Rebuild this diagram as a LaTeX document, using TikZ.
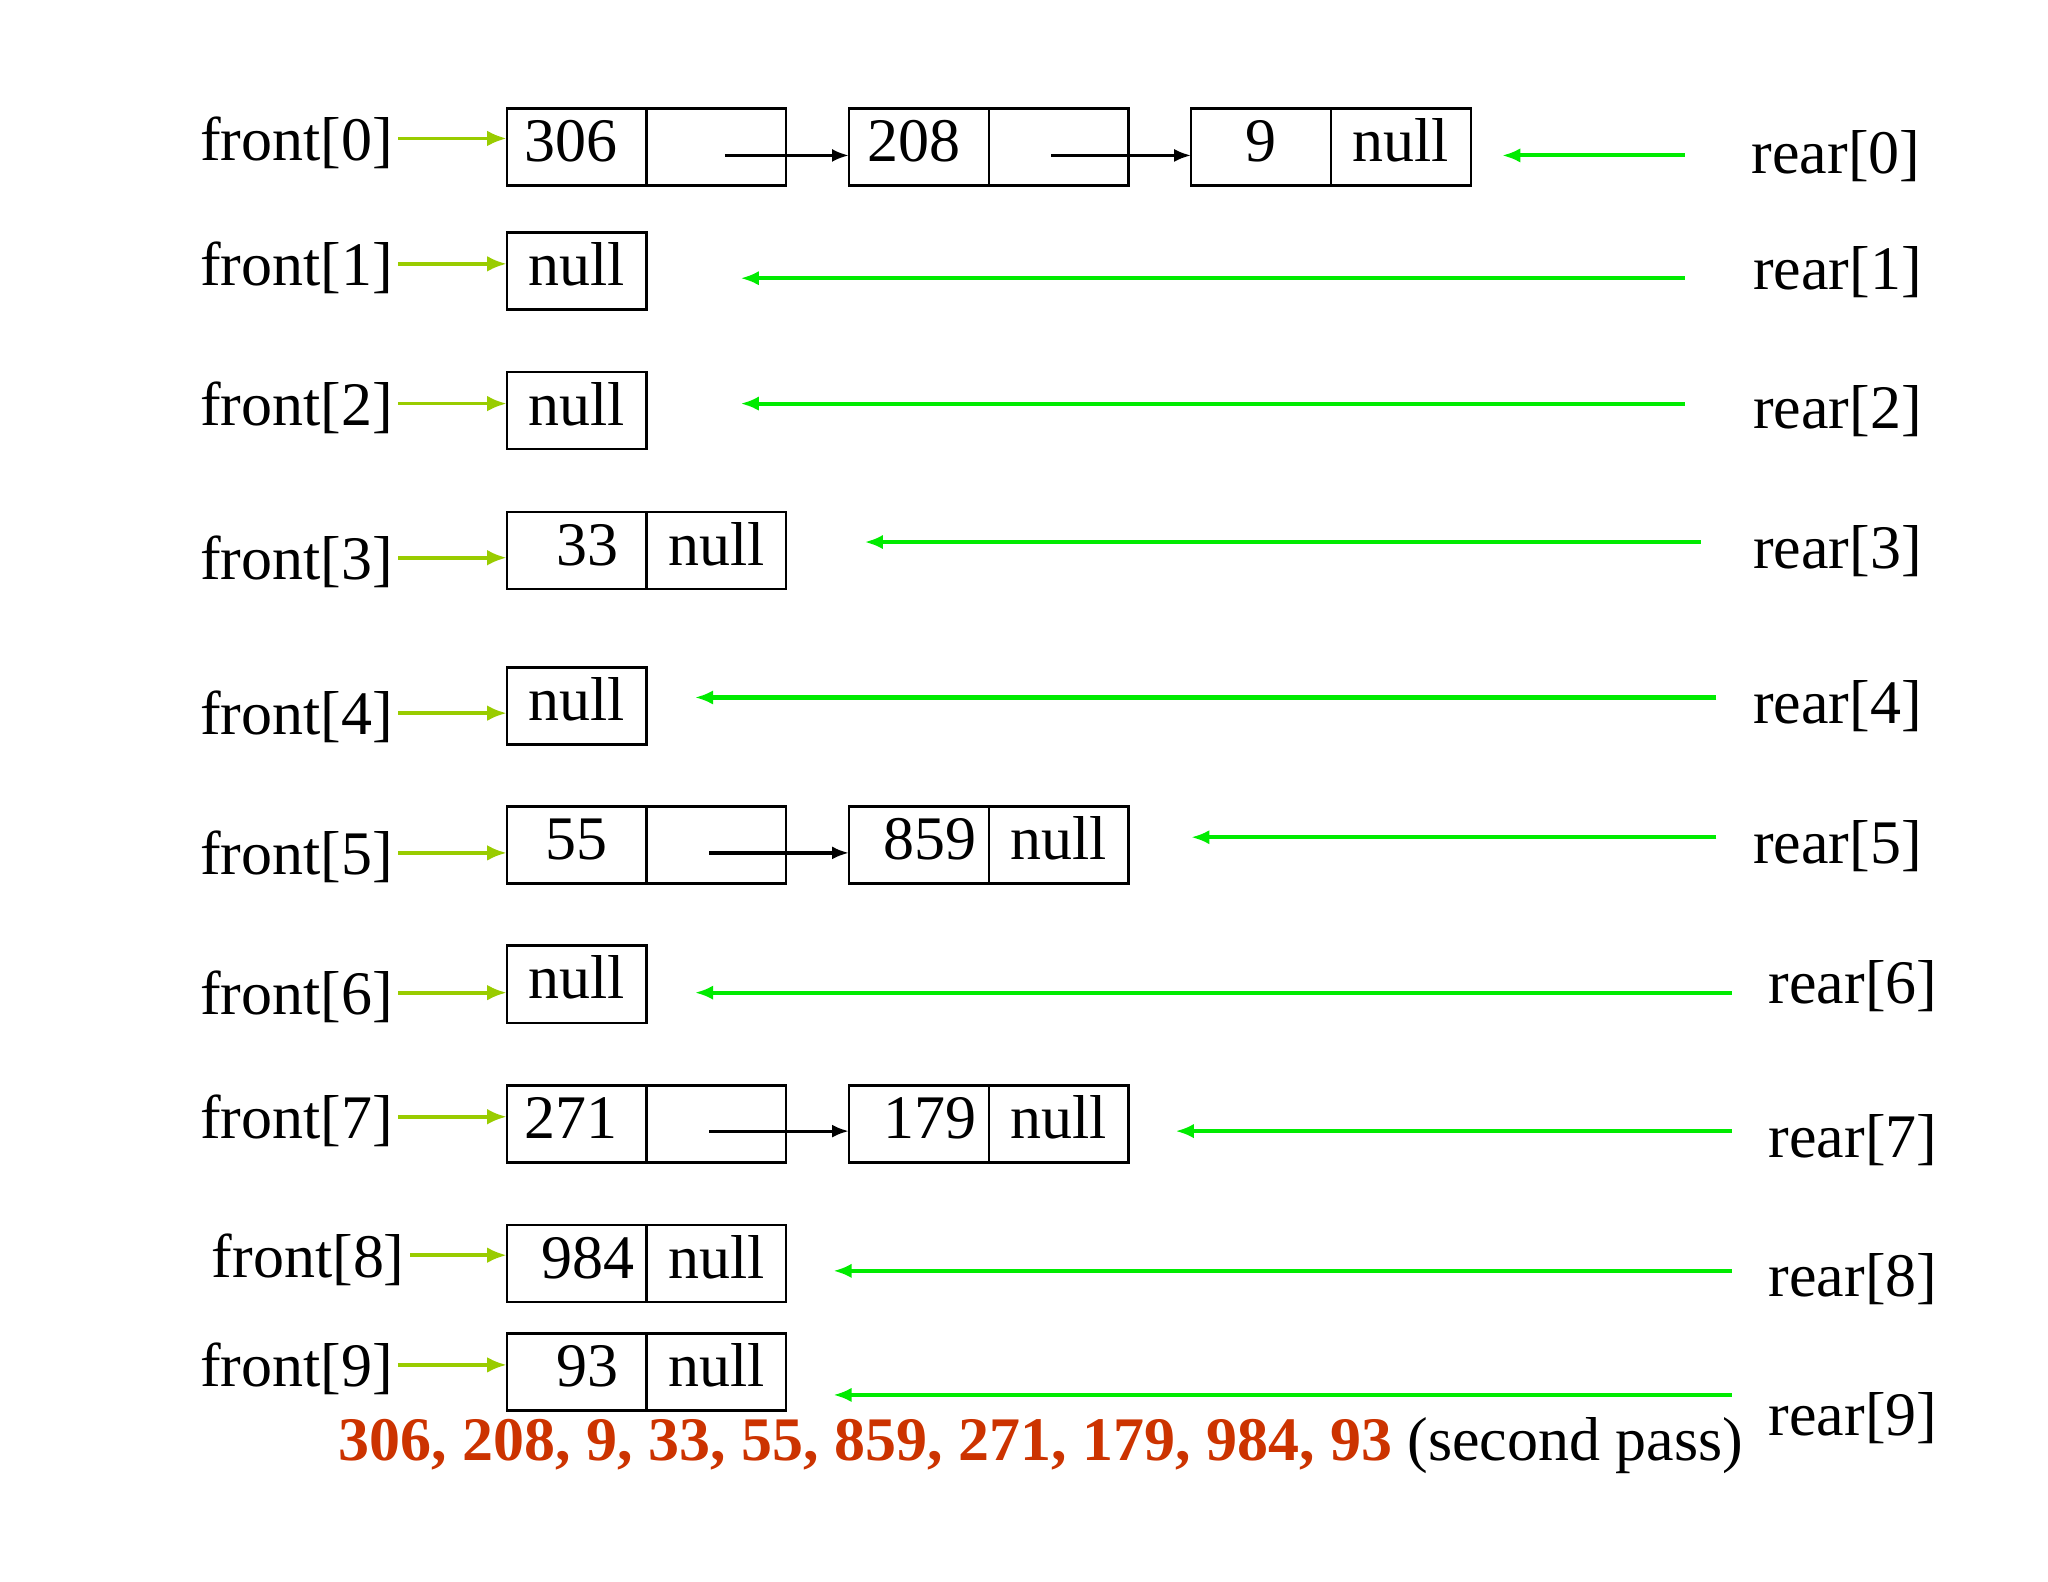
\documentclass[tikz,border=0pt]{standalone}
\usepackage{fontspec}
\setmainfont{Liberation Serif}
\usetikzlibrary{positioning, calc, arrows.meta}

\definecolor{frontgreen}{RGB}{153,204,0}
\definecolor{reargreen}{RGB}{0,235,0}
\definecolor{passred}{RGB}{204,51,0}

\tikzset{
	cell/.style={draw, line width=0.5pt, minimum width=10.7mm, minimum height=5.9mm, inner sep=0pt, outer sep=0pt, text height=0.77em, text depth=0.13em},
	flbl/.style={anchor=east, inner sep=1pt, text height=0.95em, text depth=0pt},
	rlbl/.style={anchor=base west, inner sep=1pt},
	farr/.style={frontgreen, line width=0.8pt, -{Latex[length=1.5mm, width=1.2mm]}},
	rarr/.style={reargreen, line width=0.9pt, -{Latex[length=1.4mm, width=1.1mm]}},
	ptr/.style={line width=0.7pt, -{Latex[length=1.3mm, width=1mm]}}
}

\begin{document}
\begin{tikzpicture}[x=0.1mm, y=-0.1mm, font=\fontsize{13.5pt}{16pt}\selectfont]
	\useasboundingbox (0, 0) rectangle (1568, 1211);

	% front[] labels
	\foreach \i/\x/\y in {0/305/106, 1/305/202, 2/305/309, 3/305/427, 4/305/546, 5/305/653, 6/305/760, 7/305/855, 8/314/961, 9/305/1045}
		\node[flbl] (f\i) at (\x, \y) {front[\i]};

	% rear[] labels
	\foreach \i/\x/\y in {0/1337/133, 1/1338/222, 2/1338/328, 3/1338/435, 4/1338/554, 5/1338/661, 6/1350/768, 7/1350/886, 8/1350/993, 9/1350/1099}
		\node[rlbl] (r\i) at (\x, \y) {rear[\i]};

	% buckets
	\node[cell, anchor=west] (b0) at (388, 112.5) {306\kern0.8mm};
	\node[cell, right=0pt of b0] (l0) {};
	\node[cell, right=4.8mm of l0] (c0) {208\kern0.8mm};
	\node[cell, right=0pt of c0] (lc0) {};
	\node[cell, right=4.8mm of lc0] (d0) {9};
	\node[cell, right=0pt of d0] (ld0) {null};

	\node[cell, anchor=west] (b1) at (388, 207.5) {null};
	\node[cell, anchor=west] (b2) at (388, 314.5) {null};

	\node[cell, anchor=west] (b3) at (388, 421.5) {\kern1.7mm 33};
	\node[cell, right=0pt of b3] (l3) {null};

	\node[cell, anchor=west] (b4) at (388, 540.5) {null};

	\node[cell, anchor=west] (b5) at (388, 647) {55};
	\node[cell, right=0pt of b5] (l5) {};
	\node[cell, right=4.8mm of l5] (c5) {\kern1.7mm 859};
	\node[cell, right=0pt of c5] (lc5) {null};

	\node[cell, anchor=west] (b6) at (388, 753.5) {null};

	\node[cell, anchor=west] (b7) at (388, 860.5) {271\kern0.8mm};
	\node[cell, right=0pt of b7] (l7) {};
	\node[cell, right=4.8mm of l7] (c7) {\kern1.7mm 179};
	\node[cell, right=0pt of c7] (lc7) {null};

	\node[cell, anchor=west] (b8) at (388, 967.5) {\kern1.7mm 984};
	\node[cell, right=0pt of b8] (l8) {null};

	\node[cell, anchor=west] (b9) at (388, 1050.5) {\kern1.7mm 93};
	\node[cell, right=0pt of b9] (l9) {null};

	% links
	\coordinate (p0) at (555, 119);
	\coordinate (q0) at (805, 119);
	\coordinate (p5) at (543, 653);
	\coordinate (p7) at (543, 866);
	\draw[ptr] (p0) -- (c0.west |- p0);
	\draw[ptr] (q0) -- (d0.west |- q0);
	\draw[ptr] (p5) -- (c5.west |- p5);
	\draw[ptr] (p7) -- (c7.west |- p7);

	\foreach \i in {0,...,9}
		\draw[farr] (f\i.east) -- (b\i.west |- f\i.east);

	\foreach \i/\xs/\xe/\y in {0/1290/1150/119, 1/1290/567/213, 2/1290/567/309, 3/1302/662/415, 4/1314/532/534, 5/1314/912/641, 6/1326/532/760, 7/1326/900/866, 8/1326/638/973, 9/1326/638/1068}
	{
		\coordinate (rs\i) at (\xs, \y);
		\coordinate (rt\i) at (\xe, \y);
		\draw[rarr] (rs\i) -- (rt\i);
	}

	\node[anchor=base west, inner sep=1pt] (pass) at (255, 1118) {\textcolor{passred}{\bfseries 306, 208, 9, 33, 55, 859, 271, 179, 984, 93} (second pass)};
\end{tikzpicture}
\end{document}
